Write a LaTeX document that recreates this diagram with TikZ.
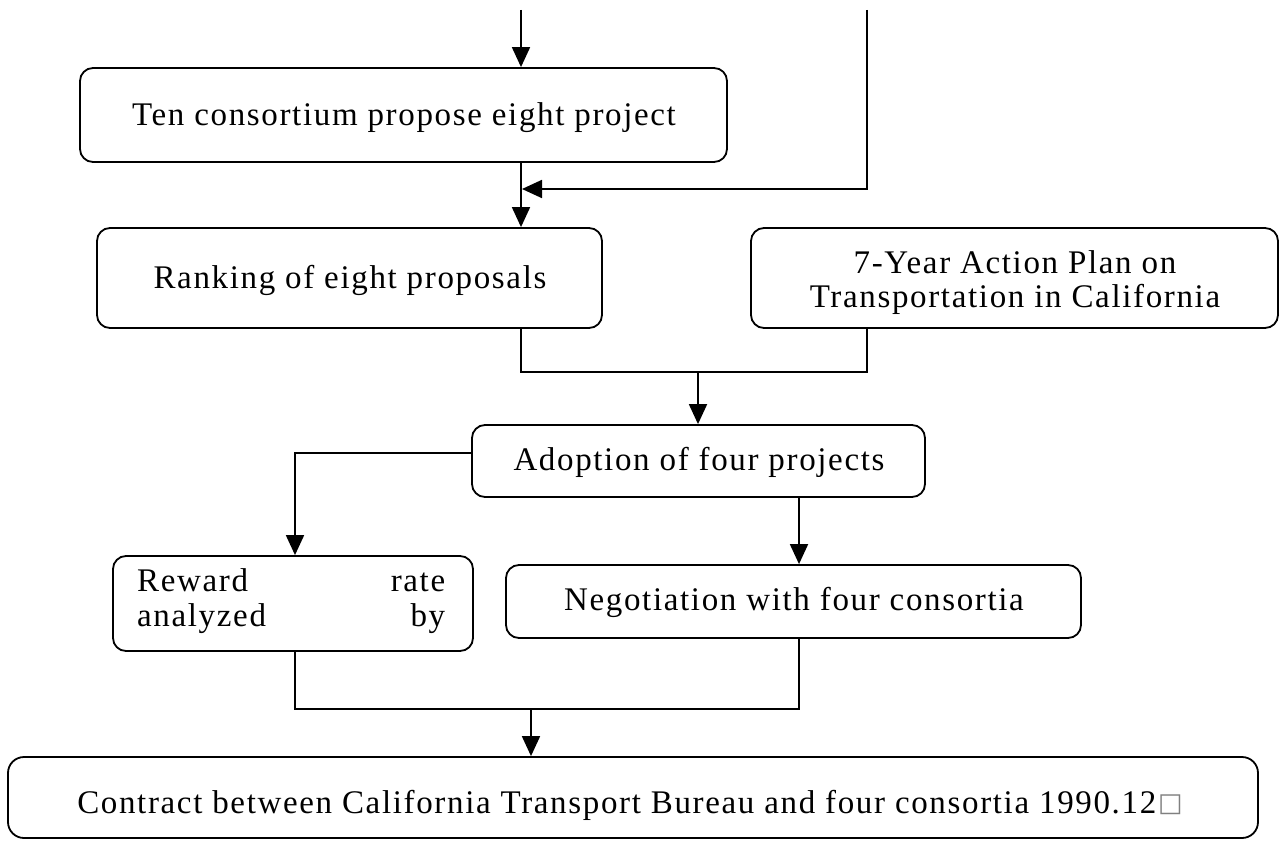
\documentclass[tikz,border=0pt]{standalone}
\usepackage{fontspec}
\setmainfont{Liberation Serif}[LetterSpace=5]
\newfontfamily\symfont{DejaVu Sans}
\usetikzlibrary{arrows.meta}

\tikzset{
  stagebox/.style={draw, line width=1.8pt, rounded corners=13pt, inner sep=0pt},
  flow/.style={line width=1.8pt},
  arr/.style={flow, -{Triangle[length=20pt, width=18pt]}},
  label/.style={inner sep=0pt, font=\fontsize{33}{35}\selectfont},
}

\begin{document}
\begin{tikzpicture}[x=1pt, y=-1pt]
  \useasboundingbox (0,0) rectangle (1281,840);

  % boxes
  \node[stagebox, minimum width=647pt, minimum height=94pt]  (b1) at (403.5,115) {};
  \node[stagebox, minimum width=505pt, minimum height=100pt] (b2) at (349.5,278) {};
  \node[stagebox, minimum width=527pt, minimum height=100pt] (b3) at (1014.5,278) {};
  \node[stagebox, minimum width=453pt, minimum height=72pt]  (b4) at (698.5,461) {};
  \node[stagebox, minimum width=360pt, minimum height=95pt]  (b5) at (293,603.5) {};
  \node[stagebox, minimum width=575pt, minimum height=73pt]  (b6) at (793.5,601.5) {};
  \node[stagebox, minimum width=1250pt, minimum height=81pt, rounded corners=16pt] (b7) at (633,797.5) {};

  % texts
  \node[label, anchor=base] (t1) at (404,125) {Ten consortium propose eight project};
  \node[label, anchor=base] (t2) at (350,288) {Ranking of eight proposals};
  \node[label, anchor=base] (t3a) at (1015,273) {7-Year Action Plan on};
  \node[label, anchor=base] (t3b) at (1015,307) {Transportation in California};
  \node[label, anchor=base] (t4) at (699,470) {Adoption of four projects};
  \node[label, anchor=base west] (t5a) at (137,591) {\makebox[308pt][s]{Reward rate}};
  \node[label, anchor=base west] (t5b) at (137,626) {\makebox[308pt][s]{analyzed by}};
  \node[label, anchor=base] (t6) at (794,610) {Negotiation with four consortia};
  \node[label, anchor=base] (t7) at (630,813) {Contract between California Transport Bureau and four consortia 1990.12\hspace{2pt}{\symfont\fontsize{26}{26}\selectfont\color{gray}\raisebox{2pt}{□}}};

  % connector routing points
  \coordinate (s1) at (521,10);
  \coordinate (s2) at (867,10);
  \coordinate (j1) at (522,189);
  \coordinate (m1) at (698,372);
  \coordinate (c5) at (295,453);
  \coordinate (c6) at (799,500);
  \coordinate (m2) at (531,709);

  % connectors
  \draw[arr] (s1) -- (s1 |- b1.north);
  \draw[arr] (s1 |- b1.south) -- (s1 |- b2.north);
  \draw[arr] (s2) |- (j1);
  \draw[flow] (s1 |- b2.south) |- (m1) -| (s2 |- b3.south);
  \draw[arr] (m1) -- (m1 |- b4.north);
  \draw[arr] (c5 -| b4.west) -- (c5) -- (c5 |- b5.north);
  \draw[arr] (c6 |- b4.south) -- (c6 |- b6.north);
  \draw[flow] (c5 |- b5.south) |- (m2) -| (c6 |- b6.south);
  \draw[arr] (m2) -- (m2 |- b7.north);
\end{tikzpicture}
\end{document}
